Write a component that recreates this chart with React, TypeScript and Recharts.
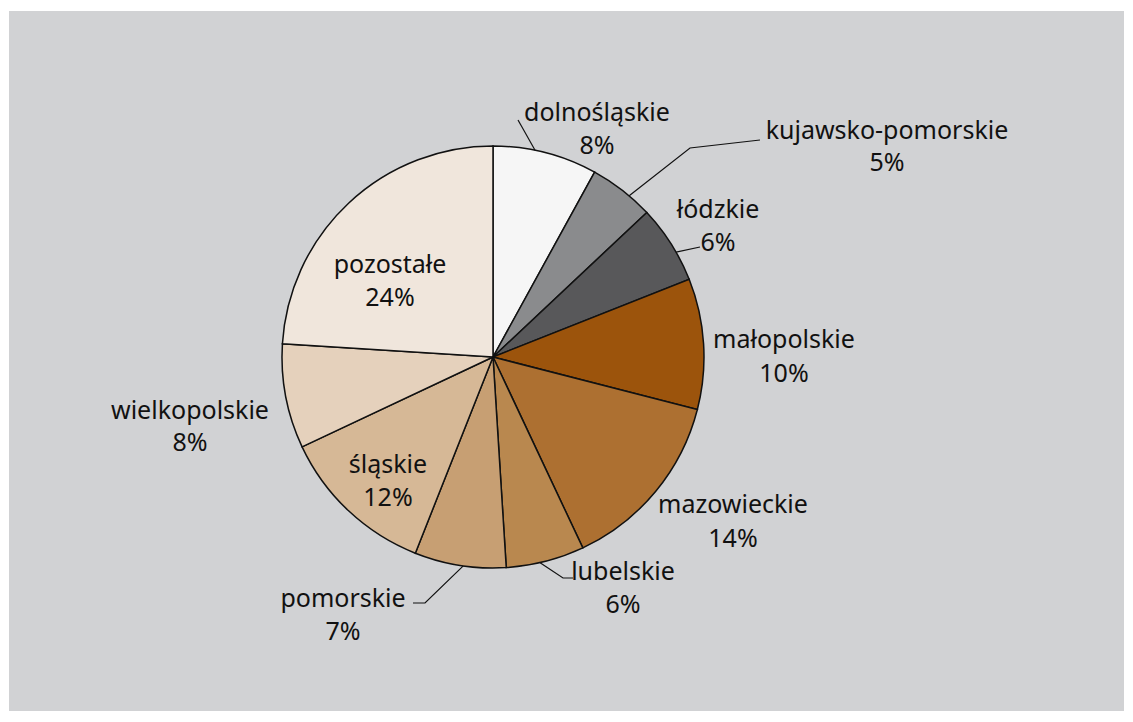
import { PieChart, Pie, Cell } from 'recharts'

const regions = [
  'dolnośląskie',
  'kujawsko-pomorskie',
  'łódzkie',
  'małopolskie',
  'mazowieckie',
  'lubelskie',
  'pomorskie',
  'śląskie',
  'wielkopolskie',
  'pozostałe',
]
const shares = [8, 5, 6, 10, 14, 6, 7, 12, 8, 24]
const colors = [
  '#f6f6f6', '#8a8b8d', '#58585a', '#9c540c', '#ad7031',
  '#b9884f', '#c79f73', '#d6b896', '#e5d1bc', '#f0e6dc',
]

const data = regions.map((name, i) => ({ name, value: shares[i] }))

// label placement relative to pie centre; leader starts on the rim at `rim` deg (clockwise from top)
type Layout = { dx: number; y1: number; y2: number; rim?: number; leader?: [number, number][] }
const layout: Layout[] = [
  { dx: 104, y1: -246, y2: -213, rim: 11.5, leader: [[25, -237]] },
  { dx: 394, y1: -228, y2: -196, rim: 40.2, leader: [[197, -209], [267, -217]] },
  { dx: 225, y1: -149, y2: -116, rim: 60.2, leader: [[207, -110]] },
  { dx: 291, y1: -19, y2: 15 },
  { dx: 240, y1: 146, y2: 180 },
  { dx: 130, y1: 213, y2: 246, rim: 167.1, leader: [[70, 221], [80, 221]] },
  { dx: -150, y1: 240, y2: 273, rim: 188.1, leader: [[-68, 246], [-80, 246]] },
  { dx: -105, y1: 106, y2: 139 },
  { dx: -303, y1: 52, y2: 84 },
  { dx: -103, y1: -94, y2: -61 },
]

const font = '"Noto Sans", sans-serif'

function renderLabel(props: any) {
  const { cx, cy, outerRadius, index, name, value } = props
  const l = layout[index]
  let leader = null
  if (l.rim !== undefined && l.leader) {
    const a = (l.rim * Math.PI) / 180
    const pts: [number, number][] = [
      [cx + outerRadius * Math.sin(a), cy - outerRadius * Math.cos(a)],
      ...l.leader.map(([x, y]) => [cx + x, cy + y] as [number, number]),
    ]
    leader = (
      <polyline
        points={pts.map((p) => p.join(',')).join(' ')}
        fill="none"
        stroke="#111"
        strokeWidth={1.2}
      />
    )
  }
  return (
    <g key={`lbl-${index}`}>
      {leader}
      <text
        x={cx + l.dx}
        y={cy + l.y1}
        textAnchor="middle"
        dominantBaseline="central"
        fill="#111"
        fontSize={25}
        fontFamily={font}
      >
        {name}
      </text>
      <text
        x={cx + l.dx}
        y={cy + l.y2}
        textAnchor="middle"
        dominantBaseline="central"
        fill="#111"
        fontSize={25}
        fontFamily={font}
      >
        {value}%
      </text>
    </g>
  )
}

export default function App() {
  return (
    <div
      style={{
        position: 'absolute',
        left: 9,
        top: 11,
        width: 1115,
        height: 700,
        background: '#d1d2d4',
      }}
    >
      <PieChart width={1115} height={700}>
        <Pie
          data={data}
          dataKey="value"
          nameKey="name"
          cx={479}
          cy={341}
          outerRadius={211}
          startAngle={90}
          endAngle={-270}
          stroke="#111"
          strokeWidth={1.5}
          label={renderLabel}
          labelLine={false}
          isAnimationActive={false}
        >
          {data.map((d, i) => (
            <Cell key={d.name} fill={colors[i]} />
          ))}
        </Pie>
      </PieChart>
    </div>
  )
}
